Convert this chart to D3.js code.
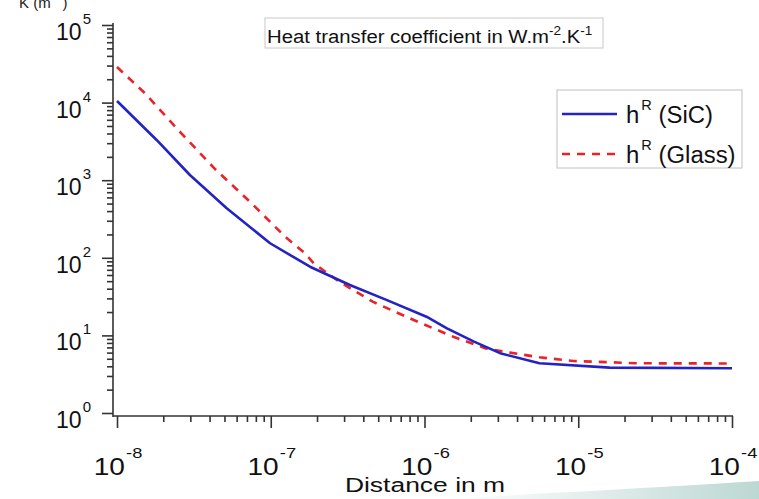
<!DOCTYPE html>
<html>
<head>
<meta charset="utf-8">
<script src="https://cdn.jsdelivr.net/npm/d3@7"></script>
<style>
  html, body { margin: 0; padding: 0; background: #ffffff; }
  svg { display: block; font-family: "Liberation Sans", Arial, Helvetica, sans-serif; }
</style>
</head>
<body>
<svg id="chart" width="759" height="499"></svg>
<script>
// ---------- data ----------
const sicDistance = [1e-8, 1.81e-8, 2.98e-8, 5.17e-8, 9.9e-8, 1.8e-7, 3.27e-7, 5.7e-7, 1.03e-6, 1.4e-6, 2.1e-6, 3.1e-6, 5.6e-6, 1.6e-5, 1e-4];
const sicH        = [10500, 3300, 1167, 435, 154, 76.7, 44.6, 28.5, 17.4, 12.3, 8.3, 5.9, 4.37, 3.84, 3.77];

const glassDistance = [1e-8, 1.52e-8, 2.5e-8, 4.3e-8, 7.5e-8, 1.24e-7, 1.67e-7, 1.9e-7, 2.8e-7, 4.6e-7, 8.5e-7, 1.54e-6, 2.5e-6, 3.6e-6, 5.6e-6, 9.3e-6, 2.5e-5, 1e-4];
const glassH        = [28800, 13200, 4440, 1420, 504, 187, 114, 85, 49, 27.2, 15.8, 9.6, 6.8, 6.0, 5.22, 4.68, 4.37, 4.35];

const xTickExponents = [-8, -7, -6, -5, -4];
const yTickExponents = [0, 1, 2, 3, 4, 5];
const seriesNames = ["SiC", "Glass"];
const titleText = "Heat transfer coefficient in W.m";
const xAxisTitle = "Distance in m";

// ---------- layout ----------
const svg = d3.select("#chart");
const xAxisY = 416, yAxisX = 113;

const x = d3.scaleLog().domain([1e-8, 1e-4]).range([117, 732]);
const y = d3.scaleLog().domain([1, 1e5]).range([413, 25]);

// decorative slide swoosh bottom-right
const defs = svg.append("defs");
const grad = defs.append("linearGradient").attr("id", "sw").attr("x1", "0").attr("x2", "1").attr("y1", "0").attr("y2", "0");
grad.append("stop").attr("offset", "0").attr("stop-color", "#ffffff");
grad.append("stop").attr("offset", "0.45").attr("stop-color", "#e4efed");
grad.append("stop").attr("offset", "1").attr("stop-color", "#bcd8d3");
svg.append("path").attr("d", "M440,499 C560,493 680,486 759,481 L759,499 Z").attr("fill", "url(#sw)");

// minor tick values
function minorTicks(e0, e1) {
  const out = [];
  for (let e = e0; e < e1; e++) for (let m = 2; m <= 9; m++) out.push(m * Math.pow(10, e));
  return out;
}

// axes
const axisColor = "#333";
const yMajor = d3.axisLeft(y).tickValues(yTickExponents.map(e => Math.pow(10, e))).tickFormat("").tickSize(11).tickSizeOuter(0);
const yMinor = d3.axisLeft(y).tickValues(minorTicks(0, 5)).tickFormat("").tickSize(6).tickSizeOuter(0);
const gy = svg.append("g").attr("transform", `translate(${yAxisX},0)`);
gy.append("g").call(yMajor);
gy.append("g").call(yMinor);
gy.selectAll("path.domain").remove();
gy.append("line").attr("x1", 0).attr("x2", 0).attr("y1", 23).attr("y2", xAxisY + 1);

const xMajor = d3.axisBottom(x).tickValues(xTickExponents.map(e => Math.pow(10, e))).tickFormat("").tickSize(12).tickSizeOuter(0);
const xMinor = d3.axisBottom(x).tickValues(minorTicks(-8, -4)).tickFormat("").tickSize(6).tickSizeOuter(0);
const gx = svg.append("g").attr("transform", `translate(0,${xAxisY})`);
gx.append("g").call(xMajor);
gx.append("g").call(xMinor);
gx.selectAll("path.domain").remove();
gx.append("line").attr("x1", yAxisX).attr("x2", 733).attr("y1", 0).attr("y2", 0);

svg.selectAll("line").attr("stroke", axisColor).attr("stroke-width", 1.6);
svg.selectAll(".tick line").attr("stroke", axisColor).attr("stroke-width", 1.6);

// y tick labels
yTickExponents.forEach(e => {
  const ty = y(Math.pow(10, e));
  const t = svg.append("text").attr("x", 91).attr("y", ty + 15).attr("text-anchor", "end").attr("fill", "#111");
  t.append("tspan").attr("font-size", 23).text("10");
  t.append("tspan").attr("font-size", 15).attr("dx", 1).attr("dy", -16).text(String(e));
});

// x tick labels
xTickExponents.forEach(e => {
  const tx = x(Math.pow(10, e));
  const g = svg.append("g").attr("transform", `translate(${tx + 1},475) scale(1.22,1)`);
  const t = g.append("text").attr("x", 0).attr("y", 0).attr("text-anchor", "middle").attr("fill", "#111");
  t.append("tspan").attr("font-size", 23).text("10");
  t.append("tspan").attr("font-size", 15).attr("dx", 1).attr("dy", -17).text(String(e));
});

// x axis title
svg.append("g").attr("transform", "translate(425,492) scale(1.26,1)")
  .append("text").attr("text-anchor", "middle").attr("font-size", 21).attr("fill", "#111").text(xAxisTitle);

// y axis title (partly clipped at top)
const yt = svg.append("text").attr("x", 19).attr("y", 8).attr("font-size", 15).attr("fill", "#222");
yt.append("tspan").text("K (m");
yt.append("tspan").attr("font-size", 11).attr("dy", -10).attr("dx", 1).text("-1");
yt.append("tspan").attr("dy", 10).attr("dx", 1).text(")");

// title box
svg.append("rect").attr("x", 265).attr("y", 18).attr("width", 338).attr("height", 30)
  .attr("fill", "#fff").attr("stroke", "#c8c8c8").attr("stroke-width", 1);
const tg = svg.append("g").attr("transform", "translate(267,43) scale(1.13,1)");
const tt = tg.append("text").attr("font-size", 18).attr("fill", "#111");
tt.append("tspan").text(titleText);
tt.append("tspan").attr("font-size", 12).attr("dy", -8).text("-2");
tt.append("tspan").attr("dy", 8).text(".K");
tt.append("tspan").attr("font-size", 12).attr("dy", -8).text("-1");

// lines
const line = d3.line().x(d => x(d[0])).y(d => y(d[1]));
const sic = sicDistance.map((d, i) => [d, sicH[i]]);
const glass = glassDistance.map((d, i) => [d, glassH[i]]);
const blue = "#2323c4", red = "#e8242a";

svg.append("path").datum(glass).attr("d", line).attr("fill", "none")
  .attr("stroke", red).attr("stroke-width", 2.6).attr("stroke-dasharray", "8,7");
svg.append("path").datum(sic).attr("d", line).attr("fill", "none")
  .attr("stroke", blue).attr("stroke-width", 2.6).attr("stroke-linejoin", "round");

// legend
svg.append("rect").attr("x", 557).attr("y", 90).attr("width", 185).attr("height", 78)
  .attr("fill", "#fff").attr("stroke", "#c0c0c0").attr("stroke-width", 1);
const legendItems = [
  { name: seriesNames[0], color: blue, dash: null, y: 114 },
  { name: seriesNames[1], color: red, dash: "8,7", y: 154 }
];
legendItems.forEach(it => {
  svg.append("line").attr("x1", 562).attr("x2", 617).attr("y1", it.y).attr("y2", it.y)
    .attr("stroke", it.color).attr("stroke-width", 2.6).attr("stroke-dasharray", it.dash);
  const g = svg.append("g").attr("transform", `translate(626,${it.y + 9}) scale(1.04,1)`);
  const t = g.append("text").attr("x", 0).attr("y", 0).attr("font-size", 23).attr("fill", "#111");
  t.append("tspan").text("h");
  t.append("tspan").attr("font-size", 14).attr("dy", -13).attr("dx", 2).text("R");
  t.append("tspan").attr("dy", 13).text(" (" + it.name + ")");
});
</script>
</body>
</html>
